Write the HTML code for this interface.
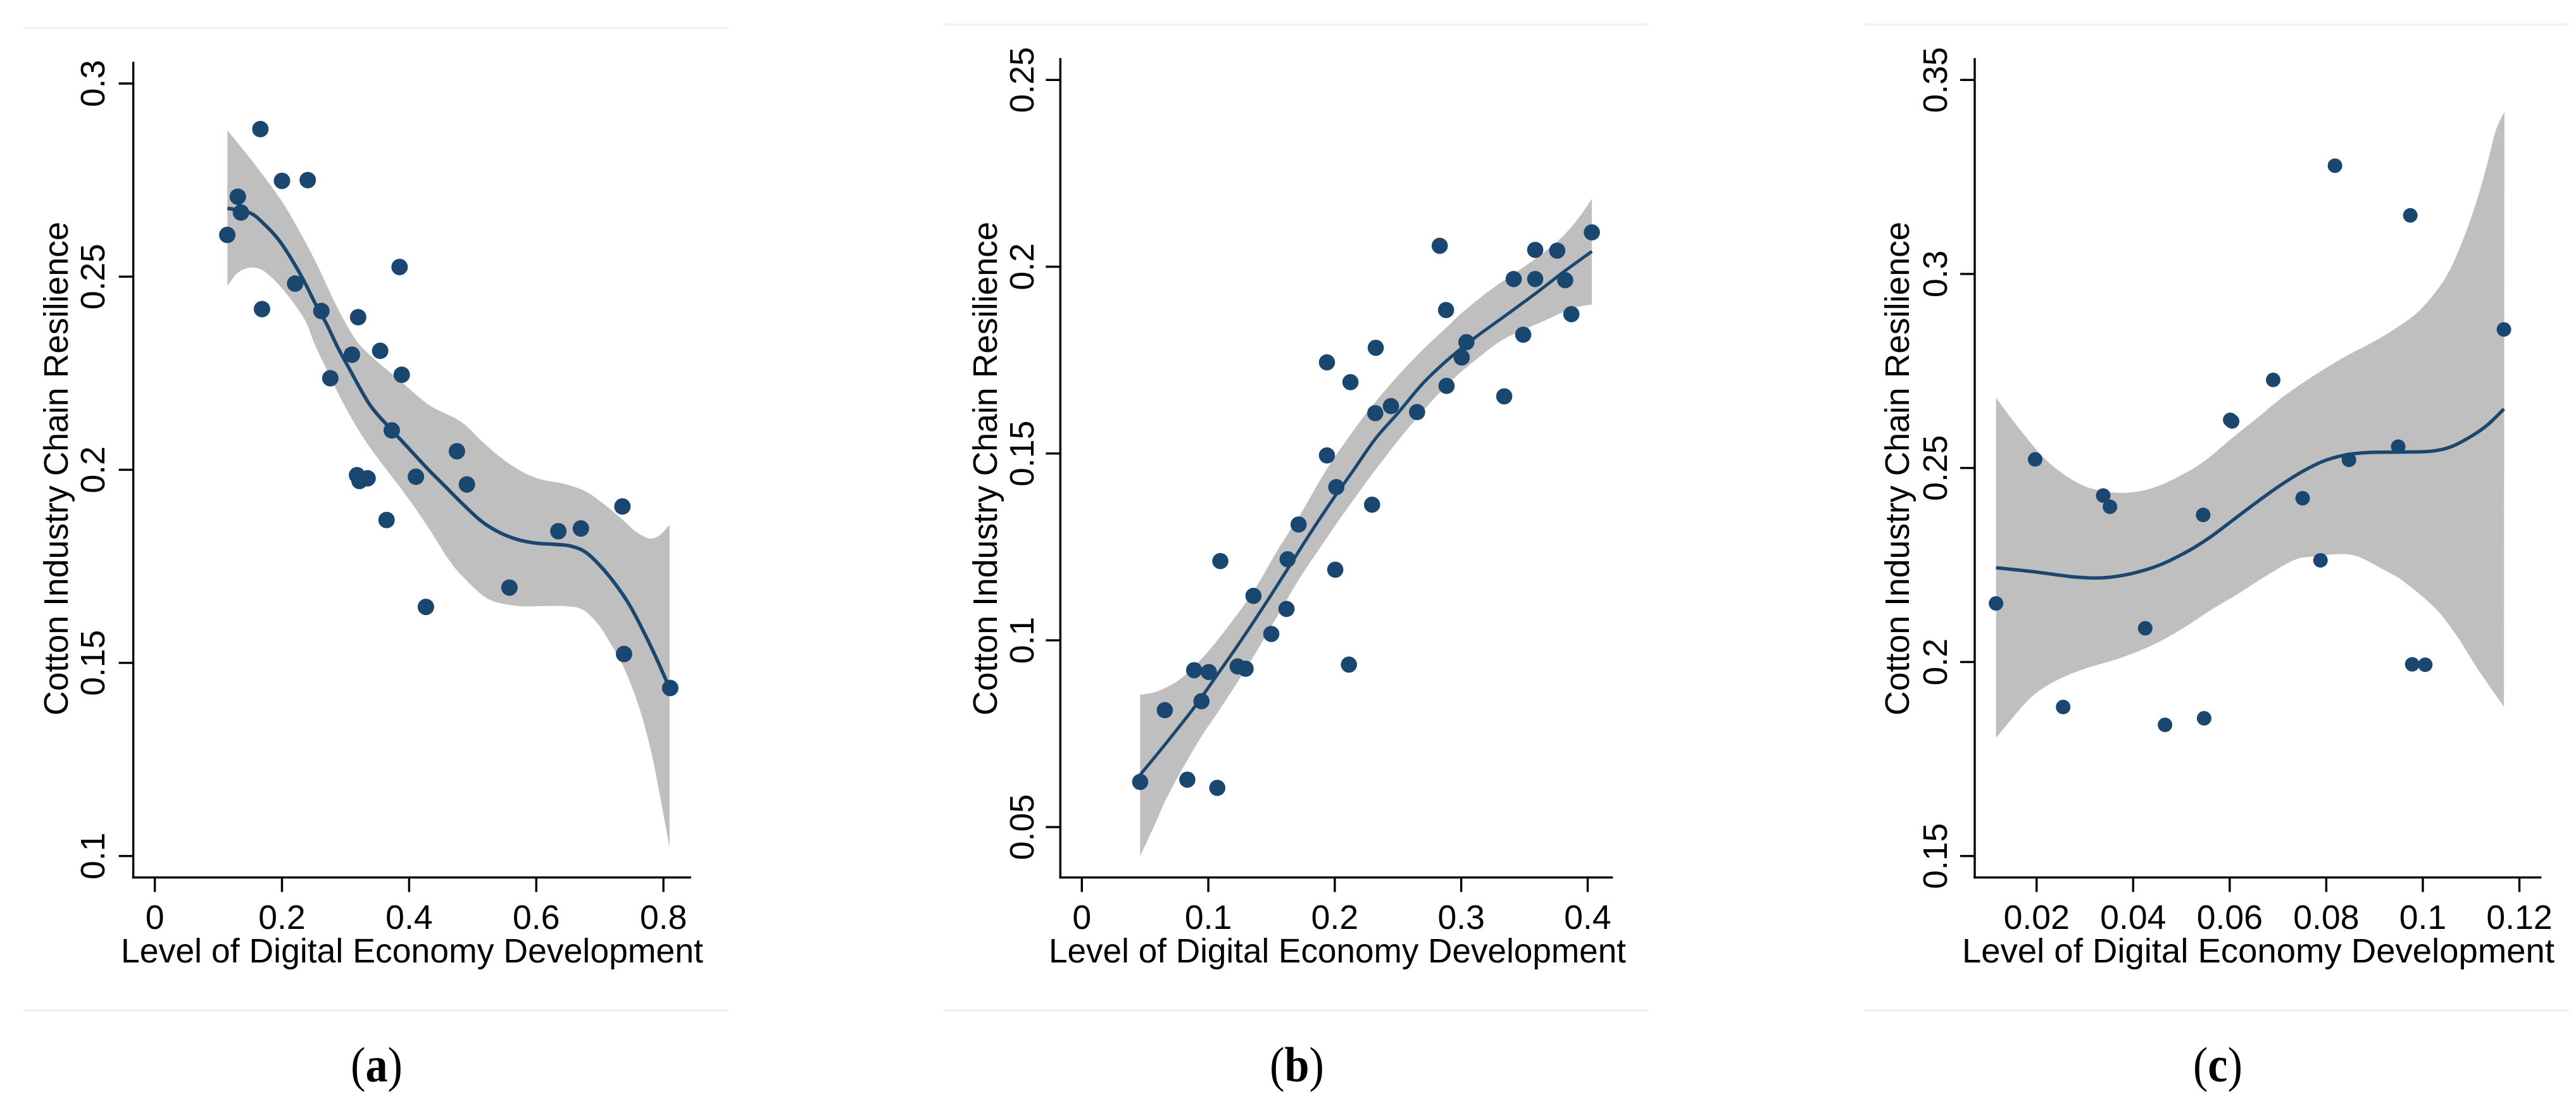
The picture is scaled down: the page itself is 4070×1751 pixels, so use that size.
<!DOCTYPE html>
<html lang="en">
<head>
<meta charset="utf-8">
<title>Cotton Industry Chain Resilience vs Level of Digital Economy Development</title>
<style>
html,body{margin:0;padding:0;background:#fff;width:4070px;height:1751px;overflow:hidden}
svg{display:block}
text{font-family:"Liberation Sans",sans-serif;fill:#000}
.cap{font-family:"Liberation Serif",serif;font-size:78px}
</style>
</head>
<body>
<svg id="figure" xmlns="http://www.w3.org/2000/svg" width="4070" height="1751" viewBox="0 0 4070 1751">
  <rect width="4070" height="1751" fill="#fff"/>
  <g fill="#eef3f5">
    <rect x="37" y="42" width="1114" height="4"/>
    <rect x="37" y="1595" width="1114" height="4"/>
    <rect x="1491" y="37" width="1114" height="4"/>
    <rect x="1491" y="1595" width="1114" height="4"/>
    <rect x="2945" y="37" width="1114" height="4"/>
    <rect x="2945" y="1595" width="1114" height="4"/>
  </g>
  <text class="cap" transform="translate(595 1709) scale(.9 1)" text-anchor="middle">(<tspan font-weight="bold">a</tspan>)</text>
  <text class="cap" transform="translate(2049 1709) scale(.9 1)" text-anchor="middle">(<tspan font-weight="bold">b</tspan>)</text>
  <text class="cap" transform="translate(3504 1709) scale(.9 1)" text-anchor="middle">(<tspan font-weight="bold">c</tspan>)</text>
</svg>
<script>
// ---------- Panel (a) data ----------
const pointsAX = [.114,.1306,.1355,.166,.1686,.2,.2405,.2207,.262,.3198,.31,.276,.3545,.3884,.385,.3727,.318,.322,.3347,.4107,.4752,.4909,.3645,.6347,.6702,.7355,.4264,.5578,.738,.8107];
const pointsAY = [.2608,.2707,.2666,.2882,.2416,.2748,.2750,.2482,.2411,.2395,.2298,.2237,.2308,.2246,.2525,.2102,.1986,.1971,.1978,.1982,.2048,.1962,.187,.1841,.1848,.1905,.1645,.1695,.1523,.1435];
const fitAX = [.1142,.1497,.1713,.1945,.2144,.2343,.2543,.2709,.2874,.3058,.3383,.3716,.4001,.4288,.4573,.4858,.5144,.543,.5715,.6001,.6287,.6525,.6764,.7002,.7239,.7477,.7715,.7906,.8097];
const fitAY = [.2677,.2665,.2637,.2596,.2547,.2490,.2424,.2375,.2318,.2262,.2168,.2105,.2054,.2003,.1956,.1909,.1866,.1837,.1819,.1810,.1807,.1803,.1788,.1752,.1705,.1647,.1572,.1506,.1434];
const upperAX = [.1142,.1547,.1945,.221,.2543,.2874,.3173,.3471,.3843,.4311,.4811,.5144,.5477,.5811,.6097,.643,.6764,.7049,.7335,.7573,.7787,.7953,.8097];
const upperAY = [.2879,.2796,.2708,.2637,.2534,.2419,.2334,.2284,.2233,.2168,.2125,.2074,.2027,.1992,.1974,.1964,.1945,.1913,.1874,.1839,.1822,.1832,.1858];
const lowerAX = [.1142,.1298,.1455,.1612,.1762,.1978,.2177,.2376,.2543,.2978,.3383,.3906,.4288,.462,.4858,.5239,.5668,.6049,.643,.6716,.6954,.7144,.7382,.762,.7811,.7953,.8097];
const lowerAY = [.2476,.2509,.2522,.2522,.2509,.2474,.2433,.2383,.2315,.2168,.2058,.1944,.1854,.1768,.1721,.1666,.1648,.1647,.1647,.1639,.1604,.1557,.1486,.1384,.1267,.1149,.1022];
const xTicksA = [0,.2,.4,.6,.8];
const xTickLabelsA = ["0","0.2","0.4","0.6","0.8"];
const yTicksA = [.1,.15,.2,.25,.3];
const yTickLabelsA = ["0.1","0.15","0.2","0.25","0.3"];

// ---------- Panel (b) data ----------
const pointsBX = [.4033,.283,.3585,.3759,.3415,.3585,.3822,.3871,.288,.349,.3041,.3004,.2884,.334,.2651,.2324,.1938,.2124,.2444,.232,.1938,.2012,.2295,.1714,.1627,.1095,.2004,.1357,.1618,.1498,.2112,.0888,.1004,.1232,.1295,.0946,.0656,.0461,.0834,.1071];
const pointsBY = [.2092,.2056,.2045,.2043,.1967,.1967,.1964,.1873,.1884,.1818,.1798,.1757,.1681,.1653,.1611,.1783,.1744,.1691,.1627,.1608,.1495,.1410,.1363,.1310,.1217,.1212,.1189,.1119,.1084,.1017,.0935,.092,.0915,.093,.0924,.0837,.0813,.0621,.0627,.0605];
const fitBX = [.0461,.066,.089,.1044,.1248,.1452,.1631,.1809,.1988,.2141,.232,.2499,.2703,.2907,.3112,.3341,.3598,.3805,.4033];
const fitBY = [.0640,.0722,.0821,.0895,.0994,.1098,.1193,.1288,.1379,.1452,.1539,.1608,.1690,.1755,.1811,.1867,.1931,.1985,.2041];
const upperBX = [.0461,.0609,.0788,.0993,.1197,.1375,.1554,.1733,.1911,.209,.2269,.2473,.2678,.2882,.3017,.3224,.3432,.3639,.3805,.393,.4033];
const upperBY = [.0854,.0865,.0899,.0968,.1055,.1141,.1245,.1340,.1444,.1534,.1616,.1698,.1772,.1837,.1880,.1936,.1985,.2034,.2082,.2131,.2182];
const lowerBX = [.0461,.0584,.0686,.0915,.112,.1324,.1529,.1707,.1886,.209,.2295,.2499,.2703,.2907,.3112,.3341,.3622,.3763,.3888,.4033];
const lowerBY = [.0422,.0512,.0588,.0726,.0830,.0938,.1055,.1158,.1249,.1349,.1444,.1534,.1616,.1690,.1750,.1807,.1850,.1872,.189,.1899];
const xTicksB = [0,.1,.2,.3,.4];
const xTickLabelsB = ["0","0.1","0.2","0.3","0.4"];
const yTicksB = [.05,.1,.15,.2,.25];
const yTickLabelsB = ["0.05","0.1","0.15","0.2","0.25"];

// ---------- Panel (c) data ----------
const pointsCX = [.0818,.0974,.1168,.069,.0601,.0605,.0197,.0949,.0847,.0338,.0352,.0545,.0751,.0788,.0116,.0425,.0978,.1005,.0255,.0466,.0547];
const pointsCY = [.3279,.3151,.2857,.2727,.2624,.262,.2522,.2555,.2521,.2429,.24,.2379,.2422,.2262,.2151,.2087,.1994,.1993,.1884,.1838,.1855];
const fitCX = [.0116,.0198,.028,.0338,.0397,.0455,.0514,.0561,.0607,.0654,.0701,.0748,.0795,.0842,.0888,.0947,.1015,.1059,.1102,.1134,.1168];
const fitCY = [.2243,.2232,.2219,.2217,.2228,.2250,.2286,.2323,.2366,.2410,.2452,.2489,.2518,.2534,.2540,.2541,.2543,.2555,.2583,.2611,.2652];
const upperCX = [.0116,.0163,.0221,.028,.0327,.0385,.0444,.0502,.0549,.0602,.066,.0707,.0762,.0832,.0902,.0955,.099,.1025,.1051,.1072,.1094,.1116,.1134,.1151,.1169];
const upperCY = [.2681,.2603,.2519,.2465,.2443,.2436,.2450,.2483,.2519,.2574,.2632,.2680,.2728,.2782,.2828,.2869,.2902,.2951,.2999,.3054,.3124,.3206,.3287,.3369,.3418];
const lowerCX = [.0116,.0163,.0198,.0245,.0303,.0373,.0444,.0502,.0561,.0619,.0678,.0736,.0777,.0824,.0865,.0923,.0963,.1026,.107,.1113,.1168];
const lowerCY = [.1804,.1875,.1919,.1955,.1984,.2010,.2046,.2086,.2134,.2177,.2224,.2264,.2272,.2278,.2272,.2235,.2205,.2138,.2068,.1983,.1885];
const xTicksC = [.02,.04,.06,.08,.1,.12];
const xTickLabelsC = ["0.02","0.04","0.06","0.08","0.1","0.12"];
const yTicksC = [.15,.2,.25,.3,.35];
const yTickLabelsC = ["0.15","0.2","0.25","0.3","0.35"];

const xAxisTitle = "Level of Digital Economy Development";
const yAxisTitle = "Cotton Industry Chain Resilience";

// ---------- Drawing ----------
const NS = "http://www.w3.org/2000/svg";
const svg = document.getElementById("figure");
const NAVY = "#1a476f", BAND = "#bfbfbf";

function make(tag, parent, attrs) {
  const e = document.createElementNS(NS, tag);
  for (const k in attrs) e.setAttribute(k, attrs[k]);
  parent.appendChild(e);
  return e;
}
function curve(pts, move) {
  let d = (move ? "M" : "L") + pts[0][0].toFixed(2) + " " + pts[0][1].toFixed(2);
  for (let i = 0; i < pts.length - 1; i++) {
    const p0 = pts[Math.max(i - 1, 0)], p1 = pts[i], p2 = pts[i + 1], p3 = pts[Math.min(i + 2, pts.length - 1)];
    const c1x = p1[0] + (p2[0] - p0[0]) / 6, c1y = p1[1] + (p2[1] - p0[1]) / 6;
    const c2x = p2[0] - (p3[0] - p1[0]) / 6, c2y = p2[1] - (p3[1] - p1[1]) / 6;
    d += "C" + c1x.toFixed(2) + " " + c1y.toFixed(2) + " " + c2x.toFixed(2) + " " + c2y.toFixed(2) + " " + p2[0].toFixed(2) + " " + p2[1].toFixed(2);
  }
  return d;
}

function drawPanel(cfg) {
  const sx = v => cfg.x0 + v * cfg.xScale;
  const sy = v => cfg.yRef + (cfg.yRefVal - v) * cfg.yScale;
  const g = make("g", svg, {});
  
  

  // confidence band
  const up = cfg.upperX.map((v, i) => [sx(v), sy(cfg.upperY[i])]);
  const lo = cfg.lowerX.map((v, i) => [sx(v), sy(cfg.lowerY[i])]).reverse();
  const band = make("path", g, { d: curve(up, true) + curve(lo, false) + "Z", fill: BAND });
  
  

  // fitted line
  const fitPts = cfg.fitX.map((v, i) => [sx(v), sy(cfg.fitY[i])]);
  const fit = make("path", g, { d: curve(fitPts, true), fill: "none", stroke: NAVY, "stroke-width": cfg.lw });
  
  

  // scatter points
  cfg.pointsX.forEach((v, i) => {
    const c = make("circle", g, { cx: sx(v), cy: sy(cfg.pointsY[i]), r: cfg.r, fill: NAVY });
    
    
  });

  // axes
  const axY = make("line", g, { x1: cfg.axisX, x2: cfg.axisX, y1: cfg.axisTop, y2: cfg.axisY + 1.75, stroke: "#000", "stroke-width": 3.4 });
  
  
  const axX = make("line", g, { x1: cfg.axisX - 1.75, x2: cfg.axisRight, y1: cfg.axisY, y2: cfg.axisY, stroke: "#000", "stroke-width": 3.4 });
  
  

  // x ticks
  cfg.xTicks.forEach((v, i) => {
    const t = make("line", g, { x1: sx(v), x2: sx(v), y1: cfg.axisY, y2: cfg.axisY + 23, stroke: "#000", "stroke-width": 3.4 });
    
    
    const l = make("text", g, { x: sx(v), y: 1468, "text-anchor": "middle", "font-size": 53.6 });
    l.textContent = cfg.xLabels[i];
    
    
  });

  // y ticks
  cfg.yTicks.forEach((v, i) => {
    const t = make("line", g, { x1: cfg.axisX - 23, x2: cfg.axisX, y1: sy(v), y2: sy(v), stroke: "#000", "stroke-width": 3.4 });
    
    
    const l = make("text", g, { transform: "translate(" + cfg.yTickBase + " " + sy(v) + ") rotate(-90)", "text-anchor": "middle", "font-size": 53.6 });
    l.textContent = cfg.yLabels[i];
    
    
  });

  // axis titles
  const xt = make("text", g, { x: cfg.xTitleX, y: 1521, "text-anchor": "middle", "font-size": 53.6, textLength: cfg.xTitleLen, lengthAdjust: "spacingAndGlyphs" });
  xt.textContent = xAxisTitle;
  
  
  const yt = make("text", g, { transform: "translate(" + cfg.yTitleBase + " 740.5) rotate(-90)", "text-anchor": "middle", "font-size": 53.6 });
  yt.textContent = yAxisTitle;
  
  
}

drawPanel({
  id: "a", r: 13, lw: 5.6,
  x0: 244.6, xScale: 1004.5, yRef: 132, yRefVal: .3, yScale: 6104,
  axisX: 210.6, axisTop: 97.6, axisY: 1386.7, axisRight: 1092,
  yTickBase: 165, yTitleBase: 107, xTitleX: 651, xTitleLen: 920,
  pointsX: pointsAX, pointsY: pointsAY, fitX: fitAX, fitY: fitAY,
  upperX: upperAX, upperY: upperAY, lowerX: lowerAX, lowerY: lowerAY,
  xTicks: xTicksA, xLabels: xTickLabelsA, yTicks: yTicksA, yLabels: yTickLabelsA
});
drawPanel({
  id: "b", r: 12.8, lw: 5,
  x0: 1709.3, xScale: 1998, yRef: 126.3, yRefVal: .25, yScale: 5904,
  axisX: 1675.3, axisTop: 91.8, axisY: 1386.7, axisRight: 2548.4,
  yTickBase: 1633, yTitleBase: 1575, xTitleX: 2113, xTitleLen: 912,
  pointsX: pointsBX, pointsY: pointsBY, fitX: fitBX, fitY: fitBY,
  upperX: upperBX, upperY: upperBY, lowerX: lowerBX, lowerY: lowerBY,
  xTicks: xTicksB, xLabels: xTickLabelsB, yTicks: yTicksB, yLabels: yTickLabelsB
});
drawPanel({
  id: "c", r: 11.5, lw: 5.4,
  x0: 3065.2, xScale: 7628, yRef: 126.3, yRefVal: .35, yScale: 6132.5,
  axisX: 3120, axisTop: 91.8, axisY: 1386.7, axisRight: 4015.4,
  yTickBase: 3076, yTitleBase: 3016, xTitleX: 3568, xTitleLen: 936,
  pointsX: pointsCX, pointsY: pointsCY, fitX: fitCX, fitY: fitCY,
  upperX: upperCX, upperY: upperCY, lowerX: lowerCX, lowerY: lowerCY,
  xTicks: xTicksC, xLabels: xTickLabelsC, yTicks: yTicksC, yLabels: yTickLabelsC
});
</script>
</body>
</html>
